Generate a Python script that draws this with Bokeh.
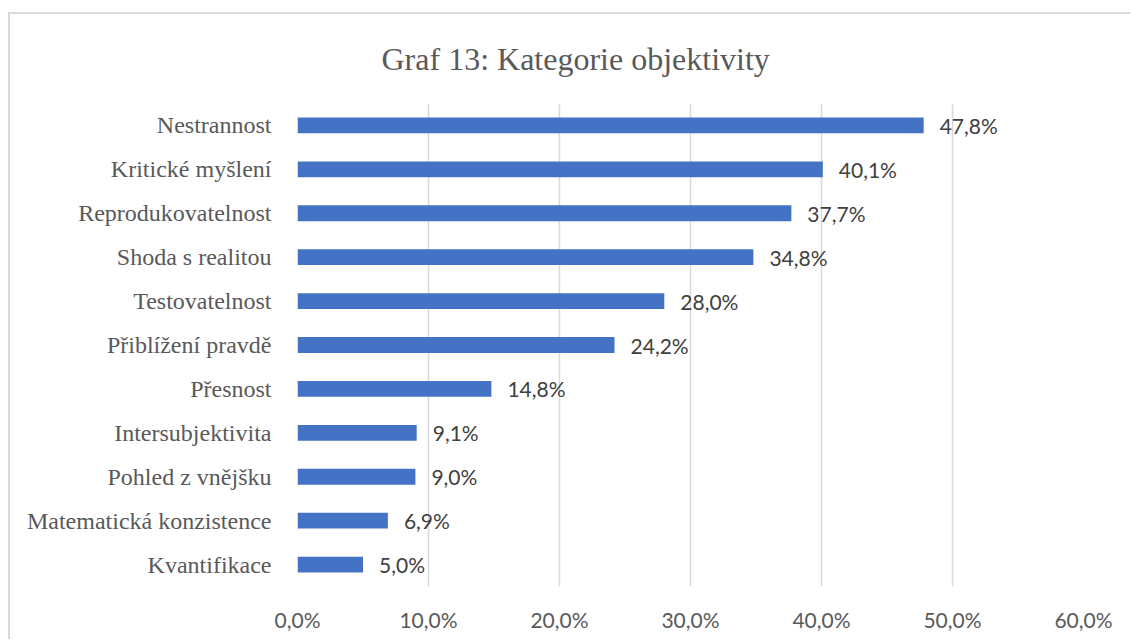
from bokeh.plotting import figure
from bokeh.models import ColumnDataSource, FactorRange, Range1d, LabelSet, FixedTicker
from bokeh.embed import file_html
from bokeh.resources import INLINE
from bokeh.core.properties import value

title_text = "Graf 13: Kategorie objektivity"
categories = ["Nestrannost", "Kritické myšlení", "Reprodukovatelnost", "Shoda s realitou",
              "Testovatelnost", "Přiblížení pravdě", "Přesnost", "Intersubjektivita",
              "Pohled z vnějšku", "Matematická konzistence", "Kvantifikace"]
values = [47.8, 40.1, 37.7, 34.8, 28.0, 24.2, 14.8, 9.1, 9.0, 6.9, 5.0]
x_ticks = [0, 10, 20, 30, 40, 50, 60]
x_tick_labels = ["0,0%", "10,0%", "20,0%", "30,0%", "40,0%", "50,0%", "60,0%"]

labels = [f"{v:.1f}".replace(".", ",") + "%" for v in values]
src = ColumnDataSource(dict(cat=categories, val=values, lab=labels))

p = figure(width=1122, height=627, y_range=FactorRange(*reversed(categories)),
           x_range=Range1d(0, 60), output_backend="svg", toolbar_location=None,
           min_border_left=287, min_border_right=49, min_border_top=89, min_border_bottom=55,
           margin=(12, 0, 0, 8),
           styles={"border-left": "2px solid #d9d9d9", "border-top": "2px solid #d9d9d9"})
p.outline_line_color = None
p.background_fill_color = "white"
p.border_fill_color = "white"

p.title.text = title_text
p.title.align = "left"
p.title.vertical_align = "top"
p.title.offset = 84
p.title.text_font = "Liberation Serif"
p.title.text_font_size = "32px"
p.title.text_font_style = "normal"
p.title.text_color = "#595959"
p.title.standoff = 50

p.hbar(y="cat", right="val", left=0, height=0.36, source=src, color="#4472C4", line_color=None)

p.add_layout(LabelSet(x="val", y="cat", text="lab", source=src, x_offset=16,
                      text_baseline="middle", text_align="left", text_font=value("Lato"),
                      text_font_size="21px", text_color="#404040"))

p.xaxis.ticker = FixedTicker(ticks=x_ticks)
p.xaxis.major_label_overrides = {t: l for t, l in zip(x_ticks, x_tick_labels)}
p.xaxis.axis_line_color = None
p.xaxis.major_tick_line_color = None
p.xaxis.minor_tick_line_color = None
p.xaxis.major_tick_out = 0
p.xaxis.major_label_standoff = 20
p.xaxis.major_label_text_font = "Lato"
p.xaxis.major_label_text_font_size = "21px"
p.xaxis.major_label_text_color = "#595959"

p.yaxis.axis_line_color = None
p.yaxis.major_tick_line_color = None
p.yaxis.major_tick_out = 0
p.yaxis.major_label_standoff = 26
p.yaxis.major_label_text_font = "Liberation Serif"
p.yaxis.major_label_text_font_size = "24px"
p.yaxis.major_label_text_color = "#595959"

p.xgrid.grid_line_color = "#d9d9d9"
p.xgrid.grid_line_width = 1.5
p.ygrid.grid_line_color = None

open("out.html", "w").write(file_html(p, INLINE))
